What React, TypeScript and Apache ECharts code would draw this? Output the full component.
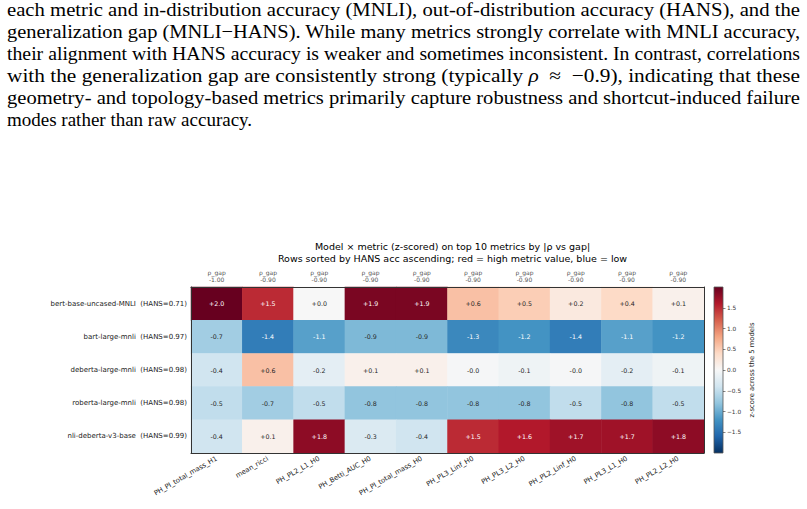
import React, { useEffect, useRef } from "react";
import * as echarts from "echarts";

const models = [
  "bert-base-uncased-MNLI",
  "bart-large-mnli",
  "deberta-large-mnli",
  "roberta-large-mnli",
  "nli-deberta-v3-base",
];
const hansAcc = ["0.71", "0.97", "0.98", "0.98", "0.99"];
const metrics = [
  "PH_PI_total_mass_H1",
  "mean_ricci",
  "PH_PL2_L1_H0",
  "PH_Betti_AUC_H0",
  "PH_PI_total_mass_H0",
  "PH_PL3_Linf_H0",
  "PH_PL3_L2_H0",
  "PH_PL2_Linf_H0",
  "PH_PL3_L1_H0",
  "PH_PL2_L2_H0",
];
const rhoGap = ["-1.00", "-0.90", "-0.90", "-0.90", "-0.90", "-0.90", "-0.90", "-0.90", "-0.90", "-0.90"];

const zBert = [2.0, 1.5, 0.0, 1.9, 1.9, 0.6, 0.5, 0.2, 0.4, 0.1];
const zBart = [-0.7, -1.4, -1.1, -0.9, -0.9, -1.3, -1.2, -1.4, -1.1, -1.2];
const zDebertaLarge = [-0.4, 0.6, -0.2, 0.1, 0.1, -0.02, -0.1, -0.02, -0.2, -0.1];
const zRoberta = [-0.5, -0.7, -0.5, -0.8, -0.8, -0.8, -0.8, -0.5, -0.8, -0.5];
const zDebertaV3 = [-0.4, 0.1, 1.8, -0.3, -0.4, 1.5, 1.6, 1.7, 1.7, 1.8];
const zRows = [zBert, zBart, zDebertaLarge, zRoberta, zDebertaV3];

const colorbarTicks = [-1.5, -1.0, -0.5, 0.0, 0.5, 1.0, 1.5];
const rdBuR = [
  "#053061", "#2166ac", "#4393c3", "#92c5de", "#d1e5f0", "#f7f7f7",
  "#fddbc7", "#f4a582", "#d6604d", "#b2182b", "#67001f",
];

const paragraphLines = [
  "each metric and in-distribution accuracy (MNLI), out-of-distribution accuracy (HANS), and the",
  "generalization gap (MNLI\u2212HANS). While many metrics strongly correlate with MNLI accuracy,",
  "their alignment with HANS accuracy is weaker and sometimes inconsistent. In contrast, correlations",
  "__RHO__",
  "geometry- and topology-based metrics primarily capture robustness and shortcut-induced failure",
];
const lastLine = "modes rather than raw accuracy.";

const FONT = "DejaVu Sans";

export default function App() {
  const ref = useRef<HTMLDivElement>(null);

  useEffect(() => {
    if (!ref.current) return;
    const chart = echarts.init(ref.current, undefined, { renderer: "svg" });

    const rowLabels = models.map((m, i) => `${m}  (HANS=${hansAcc[i]})`);
    const data: any[] = [];
    zRows.forEach((row, yi) => {
      row.forEach((v, xi) => {
        data.push({
          value: [xi, yi, v],
          label: { color: Math.abs(v) > 1.0 ? "#ffffff" : "#262626" },
        });
      });
    });

    const gridL = 191, gridT = 287, gridW = 513, gridH = 166;
    const cbL = 714, cbW = 9;

    chart.setOption({
      animation: false,
      textStyle: { fontFamily: FONT },
      title: {
        text:
          "Model \u00d7 metric (z-scored) on top 10 metrics by |\u03c1 vs gap|\nRows sorted by HANS acc ascending; red = high metric value, blue = low",
        left: gridL + gridW / 2,
        top: 236,
        textAlign: "center",
        textStyle: { fontFamily: FONT, fontSize: 9.5, fontWeight: "normal", color: "#000", lineHeight: 11.5 },
      },
      grid: [
        { left: gridL, top: gridT, width: gridW, height: gridH },
        { left: cbL, top: gridT, width: cbW, height: gridH },
      ],
      xAxis: [
        {
          type: "category",
          gridIndex: 0,
          data: metrics,
          position: "bottom",
          z: 10,
          axisLine: { show: true, lineStyle: { color: "#333", width: 1 } },
          axisTick: { show: false },
          splitLine: { show: false },
          axisLabel: { rotate: 30, fontSize: 6.8, color: "#222", margin: 5, fontFamily: FONT },
        },
        {
          type: "category",
          gridIndex: 0,
          data: rhoGap,
          position: "top",
          z: 10,
          axisLine: { show: true, lineStyle: { color: "#333", width: 1 } },
          axisTick: { show: false },
          splitLine: { show: false },
          axisLabel: {
            fontSize: 6,
            color: "#555",
            margin: 4,
            lineHeight: 7,
            fontFamily: FONT,
            formatter: (v: string) => `\u03c1_gap\n${v}`,
          },
        },
        {
          type: "category",
          gridIndex: 1,
          data: [""],
          show: false,
        },
      ],
      yAxis: [
        {
          type: "category",
          gridIndex: 0,
          data: rowLabels,
          inverse: true,
          position: "left",
          z: 10,
          axisLine: { show: true, lineStyle: { color: "#333", width: 1 } },
          axisTick: { show: false },
          splitLine: { show: false },
          axisLabel: { fontSize: 7, color: "#222", margin: 4, fontFamily: FONT },
        },
        {
          type: "category",
          gridIndex: 0,
          data: rowLabels,
          inverse: true,
          position: "right",
          z: 10,
          axisLine: { show: true, lineStyle: { color: "#333", width: 1 } },
          axisTick: { show: false },
          axisLabel: { show: false },
          splitLine: { show: false },
        },
        {
          type: "value",
          gridIndex: 1,
          min: -2,
          max: 2,
          position: "right",
          z: 10,
          axisLine: { show: false },
          splitLine: { show: false },
          axisTick: {
            show: true,
            length: 2.5,
            lineStyle: { color: "#333", width: 0.6 },
            customValues: colorbarTicks,
          },
          axisLabel: {
            fontSize: 5.8,
            color: "#333",
            margin: 4,
            fontFamily: FONT,
            customValues: colorbarTicks,
            formatter: (v: number) => (v < 0 ? "\u2212" + Math.abs(v).toFixed(1) : v.toFixed(1)),
          },
          name: "z-score across the 5 models",
          nameLocation: "middle",
          nameRotate: 90,
          nameGap: 25,
          nameTextStyle: { fontSize: 6.8, color: "#222", fontFamily: FONT },
        },
      ],
      visualMap: {
        type: "continuous",
        show: false,
        min: -2,
        max: 2,
        dimension: 2,
        seriesIndex: 0,
        inRange: { color: rdBuR },
      },
      graphic: [
        {
          type: "rect",
          z: 5,
          shape: { x: cbL, y: gridT, width: cbW, height: gridH },
          style: {
            fill: new echarts.graphic.LinearGradient(
              0, 1, 0, 0,
              rdBuR.map((c, i) => ({ offset: i / (rdBuR.length - 1), color: c }))
            ),
            stroke: "#555",
            lineWidth: 0.8,
          },
        },
      ],
      series: [
        {
          type: "heatmap",
          xAxisIndex: 0,
          yAxisIndex: 0,
          data,
          label: {
            show: true,
            fontSize: 6.3,
            fontFamily: FONT,
            formatter: (p: any) => {
              const v = p.value[2] as number;
              return (v >= 0 ? "+" : "-") + Math.abs(v).toFixed(1);
            },
          },
          itemStyle: { borderWidth: 0 },
          emphasis: { disabled: true },
        },
      ],
    });

    return () => chart.dispose();
  }, []);

  const textX = 7;
  const textW = 793;
  const baseline0 = 16.2;
  const pitch = 22;

  return (
    <div style={{ position: "fixed", left: 0, top: 0, width: 807, height: 509, background: "#fff", overflow: "hidden" }}>
      <div ref={ref} style={{ position: "absolute", left: 0, top: 0, width: 807, height: 509 }} />
      <svg
        width={807}
        height={140}
        style={{ position: "absolute", left: 0, top: 0 }}
        fontFamily={"Liberation Serif, serif"}
        fontSize={19}
        fill="#000"
      >
        {paragraphLines.map((l, i) =>
          l === "__RHO__" ? (
            <text key={i} x={textX} y={baseline0 + i * pitch} textLength={textW} lengthAdjust="spacingAndGlyphs">
              {"with the generalization gap are consistently strong (typically "}
              <tspan fontStyle="italic">{"\u03c1"}</tspan>
              {"\u2002\u2248\u2002\u22120.9), indicating that these"}
            </text>
          ) : (
            <text key={i} x={textX} y={baseline0 + i * pitch} textLength={textW} lengthAdjust="spacingAndGlyphs">
              {l}
            </text>
          )
        )}
        <text x={textX} y={baseline0 + paragraphLines.length * pitch}>
          {lastLine}
        </text>
      </svg>
    </div>
  );
}
